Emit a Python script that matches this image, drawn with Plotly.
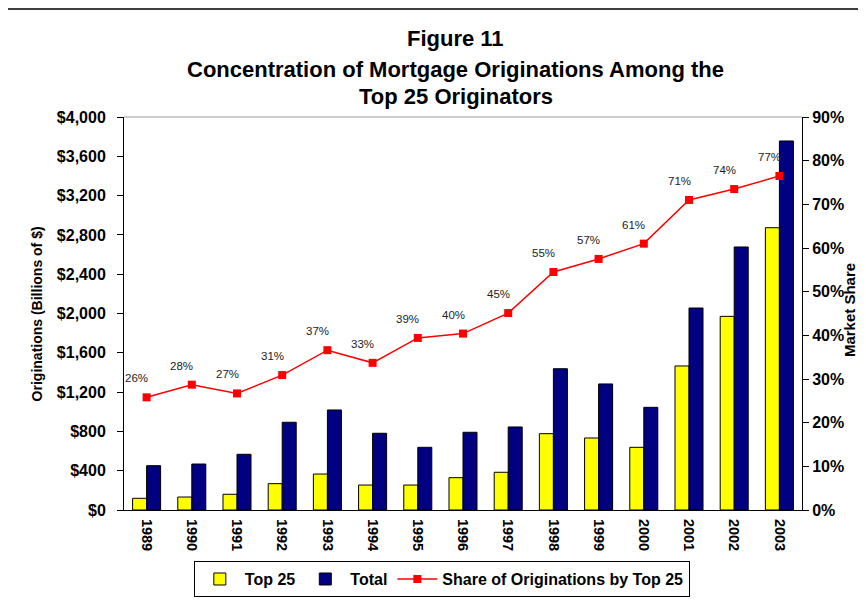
import plotly.graph_objects as go

years = ["1989", "1990", "1991", "1992", "1993", "1994", "1995", "1996", "1997",
         "1998", "1999", "2000", "2001", "2002", "2003"]
top25 = [119, 132, 160, 268, 366, 254, 254, 329, 384, 777, 733, 638, 1466, 1971, 2873]
total = [451, 468, 567, 893, 1018, 781, 638, 791, 845, 1438, 1283, 1045, 2056, 2677, 3756]
share = [25.8, 28.7, 26.7, 30.9, 36.6, 33.7, 39.4, 40.4, 45.1, 54.5, 57.5, 61.0, 71.0, 73.5, 76.5]
share_labels = ["26%", "28%", "27%", "31%", "37%", "33%", "39%", "40%", "45%",
                "55%", "57%", "61%", "71%", "74%", "77%"]
title_lines = ["Figure 11", "Concentration of Mortgage Originations Among the", "Top 25 Originators"]
left_ticks = list(range(0, 4001, 400))
left_tick_text = ["$" + format(v, ",") for v in left_ticks]
right_ticks = list(range(0, 91, 10))
right_tick_text = [f"{v}%" for v in right_ticks]

FONT = "Liberation Sans, Arial, sans-serif"

fig = go.Figure()
fig.add_trace(go.Bar(x=years, y=top25, name="Top 25",
                     marker=dict(color="#FFFF00", line=dict(color="black", width=1))))
fig.add_trace(go.Bar(x=years, y=total, name="Total",
                     marker=dict(color="#000080", line=dict(color="black", width=1))))
fig.add_trace(go.Scatter(x=years, y=share, name="Share of Originations by Top 25",
                         yaxis="y2", mode="lines+markers",
                         line=dict(color="#FF0000", width=1.5),
                         marker=dict(symbol="square", size=8, color="#FF0000")))

annotations = []
for i, (v, lab) in enumerate(zip(share, share_labels)):
    annotations.append(dict(x=i, y=v, xref="x", yref="y2", text=lab, showarrow=False,
                            xshift=-10, yshift=19,
                            font=dict(family=FONT, size=11.5, color="#222")))

for yy, line in zip([1.1985, 1.122, 1.051], title_lines):
    annotations.append(dict(x=0.489, y=yy, xref="paper", yref="paper", xanchor="center",
                            yanchor="middle", text=f"<b>{line}</b>", showarrow=False,
                            font=dict(family=FONT, size=22, color="black")))

annotations.append(dict(x=-0.1285, y=0.5, xref="paper", yref="paper", xanchor="center",
                        yanchor="middle", text="<b>Originations (Billions of $)</b>", textangle=-90,
                        showarrow=False, font=dict(family=FONT, size=14, color="black")))
annotations.append(dict(x=1.071, y=0.509, xref="paper", yref="paper", xanchor="center",
                        yanchor="middle", text="<b>Market Share</b>", textangle=-90,
                        showarrow=False, font=dict(family=FONT, size=15, color="black")))

fig.update_layout(
    width=858, height=592,
    margin=dict(l=116, r=64, t=109, b=90, autoexpand=False),
    paper_bgcolor="white", plot_bgcolor="white",
    barmode="group", bargap=0.38, bargroupgap=0,
    font=dict(family=FONT, color="black"),
    xaxis=dict(type="category", range=[-0.5, len(years) - 0.5], tickangle=90,
               showline=True, linecolor="black", linewidth=1, ticklabelstandoff=5,
               ticks="", tickfont=dict(family=FONT, size=14.5, color="black", weight="bold"),
               showgrid=False),
    yaxis=dict(range=[0, 4000], tickvals=left_ticks, ticktext=left_tick_text,
               showline=True, linecolor="black", linewidth=1, ticks="outside", ticklen=6,
               tickcolor="black", showgrid=False, zeroline=False, ticklabelstandoff=8,
               tickfont=dict(family=FONT, size=16, color="black", weight="bold")),
    yaxis2=dict(range=[0, 90], tickvals=right_ticks, ticktext=right_tick_text,
                overlaying="y", side="right", showline=True, linecolor="black", linewidth=1,
                ticks="outside", ticklen=6, tickcolor="black", showgrid=False, zeroline=False,
                tickfont=dict(family=FONT, size=16, color="black", weight="bold")),
    legend=dict(orientation="h", x=0.103, xanchor="left", y=-0.13, yanchor="top",
                bordercolor="black", borderwidth=1, bgcolor="white",
                font=dict(family=FONT, size=16, color="black", weight="bold"),
                traceorder="normal", itemwidth=40),
    annotations=annotations,
    shapes=[
        dict(type="line", xref="paper", yref="paper", x0=0, x1=1, y0=1, y1=1,
             line=dict(color="#999", width=1)),
        dict(type="rect", xref="paper", yref="paper", x0=-0.173, x1=1.25, y0=-0.3, y1=1.275,
             line=dict(color="black", width=1.5), layer="below"),
    ],
)

fig.write_html("out.html")
